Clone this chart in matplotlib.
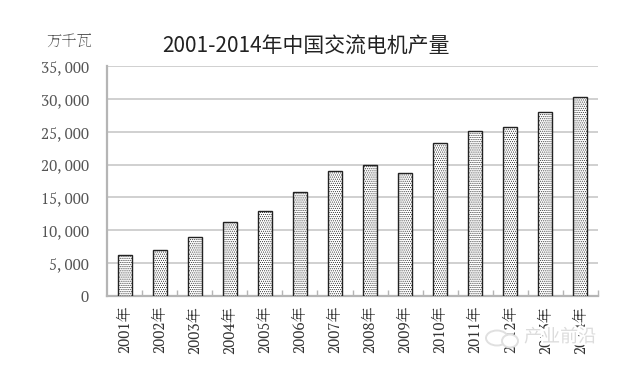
import matplotlib
matplotlib.use('Agg')
import matplotlib.pyplot as plt
from matplotlib.patches import Ellipse
from matplotlib.ticker import FuncFormatter
import matplotlib.patheffects as pe

years = ['2001年','2002年','2003年','2004年','2005年','2006年','2007年','2008年','2009年','2010年','2011年','2012年','2013年','2014年']
output = [6200,7000,9000,11200,12950,15800,19000,19900,18700,23300,25100,25700,28000,30300]
yticks = [0,5000,10000,15000,20000,25000,30000,35000]

W,H = 643,381
plt.rcParams['hatch.linewidth'] = 0.45
plt.rcParams['hatch.color'] = '#707070'
serif = ['PT Serif','Noto Serif SC','Noto Sans CJK SC','DejaVu Sans']
sans = ['Noto Sans CJK SC','DejaVu Sans']

fig = plt.figure(figsize=(W/100,H/100),dpi=100,facecolor='white')
L,R,T,B = 107,598,66,296
ax = fig.add_axes([L/W,1-B/H,(R-L)/W,(B-T)/H])
x = list(range(len(years)))
ax.bar(x,output,width=0.4,facecolor='white',edgecolor='#222222',linewidth=1.0,hatch='........',zorder=3)
ax.set_xlim(-0.5,13.5)
ax.set_ylim(0,35000)
ax.set_yticks(yticks)
ax.yaxis.set_major_formatter(FuncFormatter(lambda v,p: f'{int(v):,}'.replace(',',', ')))
ax.set_xticks([i+0.5 for i in x],minor=False)
ax.set_xticklabels(['']*len(x))
ax.grid(axis='y',color='#c4c4c4',linewidth=1.1,zorder=0)
for s in ['top','right']:
    ax.spines[s].set_visible(False)
for s in ['left','bottom']:
    ax.spines[s].set_color('#b5b5b5'); ax.spines[s].set_linewidth(1.6)
ax.tick_params(axis='y',length=0,pad=13,labelsize=11,labelcolor='#555555')
ax.tick_params(axis='x',direction='in',length=4,color='#b5b5b5',width=1)
for lab in ax.get_yticklabels():
    lab.set_family(serif)
for i,y in enumerate(years):
    ax.annotate(y,xy=(i,0),xycoords=('data','axes fraction'),xytext=(0,-7),textcoords='offset points',
                rotation=90,ha='center',va='top',fontsize=11,color='#333333',family=serif)
fig.text(69/W,1-42/H,'万千瓦',ha='center',va='center',fontsize=11,color='#555555',family=serif)
fig.text(306/W,1-47/H,'2001-2014年中国交流电机产量',ha='center',va='center',fontsize=15,color='#222222',family=sans)
# faint watermark over the last labels
wm = fig.text(560/W,1-337/H,'产业前沿',ha='center',va='center',fontsize=13,color='#dcdcdc',family=sans,zorder=5)
wm.set_path_effects([pe.withStroke(linewidth=3,foreground='white')])
for cx,cy,w,h in [(497,338,22,15),(510,341,16,13)]:
    fig.add_artist(Ellipse((cx/W,1-cy/H),w/W,h/H,transform=fig.transFigure,facecolor='white',edgecolor='#e0e0e0',linewidth=1.4,zorder=5))
fig.savefig('out.png',dpi=100)
